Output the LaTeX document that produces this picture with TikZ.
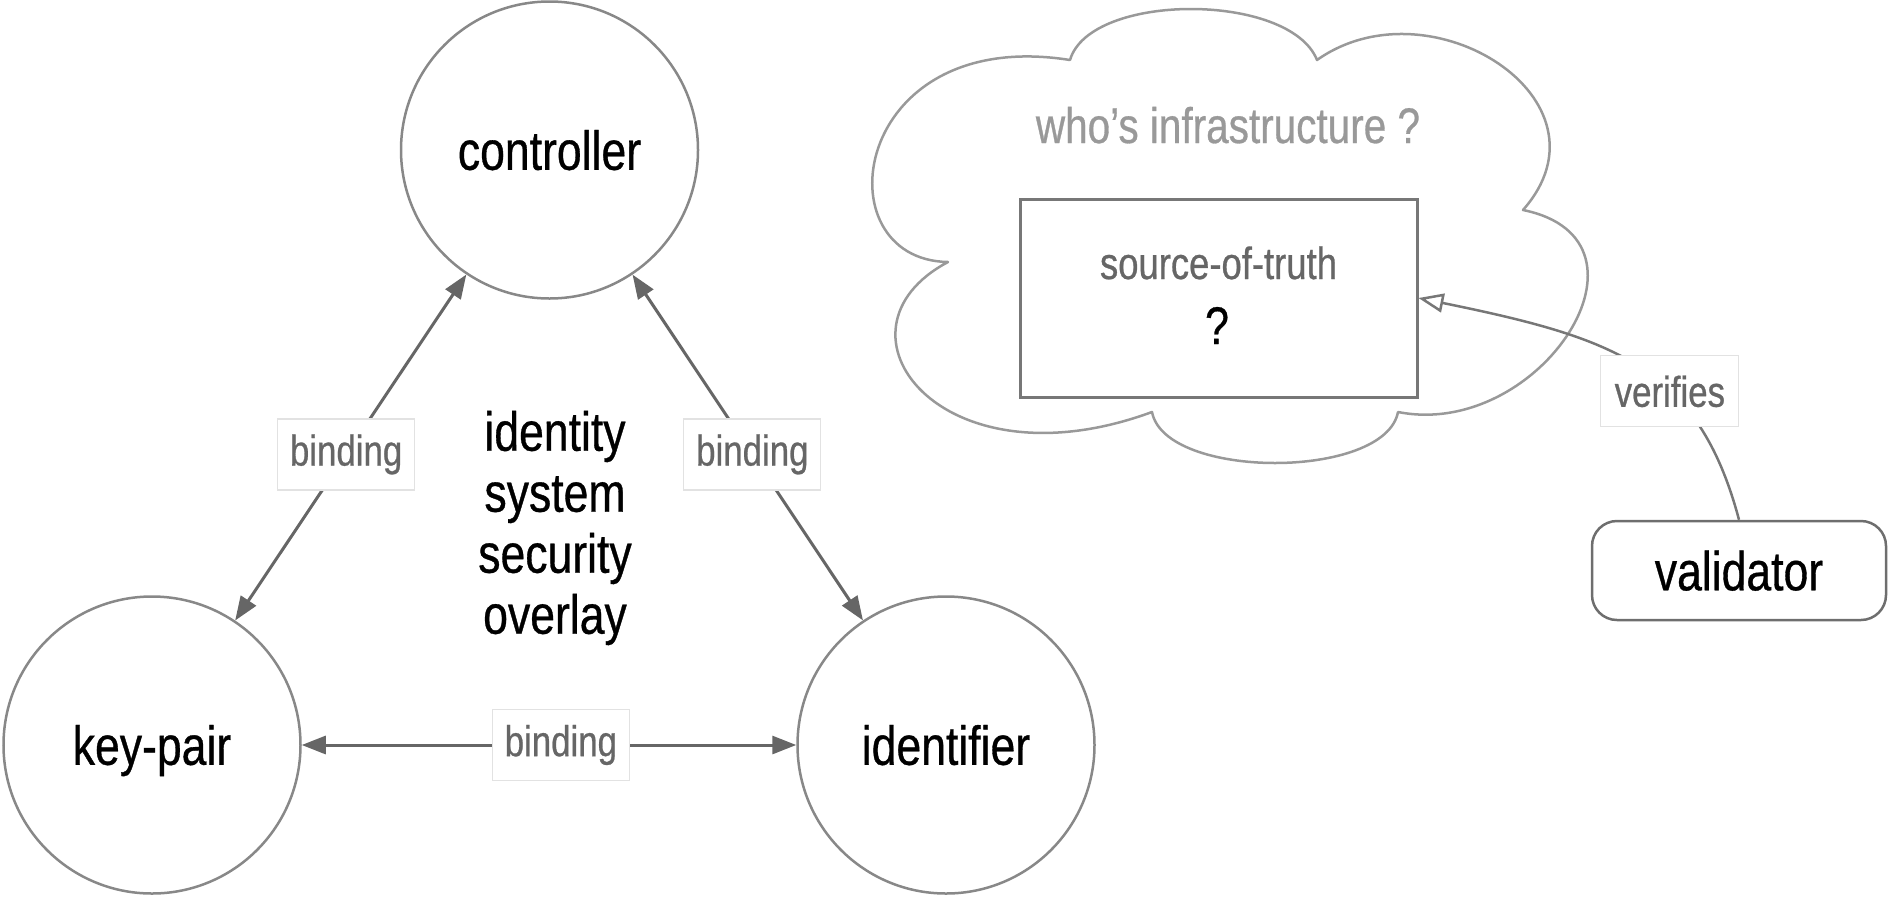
\documentclass[tikz,border=0pt]{standalone}
\usepackage{fontspec}
\setmainfont{Liberation Sans}[FakeStretch=0.81,FakeBold=0.6]
\usetikzlibrary{arrows.meta}
\definecolor{circc}{HTML}{888888}
\definecolor{arrowc}{HTML}{666666}
\definecolor{lblborder}{HTML}{E2E2E2}
\definecolor{lbltext}{HTML}{666666}
\definecolor{boxc}{HTML}{777777}
\definecolor{cloudc}{HTML}{999999}
\definecolor{whoc}{HTML}{999999}
\definecolor{valc}{HTML}{6E6E6E}
\definecolor{verc}{HTML}{777777}
\newcommand\bigtxt{\fontsize{55}{61}\selectfont}
\newcommand\lbltxt{\fontsize{43}{48}\selectfont}
\newcommand\whotxt{\fontsize{50}{56}\selectfont}
\newcommand\sottxt{\fontsize{45}{50}\selectfont}
\newcommand\qtxt{\fontsize{53}{58}\selectfont}
\tikzset{
  bigcirc/.style={circle, draw=circc, line width=2.5pt, minimum size=297pt, inner sep=0pt,
    font=\bigtxt, text height=39.6pt, text depth=0pt},
  lbl/.style={draw=lblborder, line width=1.2pt, fill=white, text=lbltext, font=\lbltxt,
    minimum width=137pt, minimum height=71pt, inner sep=0pt},
  bind/.style={draw=arrowc, line width=3pt,
    {Triangle[length=24pt,width=18pt]}-{Triangle[length=24pt,width=18pt]}},
  cloudline/.style={draw=cloudc, line width=2.5pt, line join=round},
}
\begin{document}
\begin{tikzpicture}[x=1pt,y=-1pt]
\useasboundingbox (0,0) rectangle (1888,898);
% cloud
\draw[cloudline] (1070,60) .. controls (850,25) and (820,260) .. (948,262)
  .. controls (820,330) and (940,490) .. (1152,412)
  .. controls (1165,480) and (1385,480) .. (1398,412)
  .. controls (1540,440) and (1670,240) .. (1523,210)
  .. controls (1620,100) and (1430,-20) .. (1317,60)
  .. controls (1290,-8) and (1090,-8) .. (1070,60) -- cycle;
\node[font=\whotxt, text=whoc, anchor=base, inner sep=0pt] (who) at (1228,143) {who’s infrastructure ?};
\node[draw=boxc, line width=3pt, minimum width=397pt, minimum height=198pt, inner sep=0pt] (sot) at (1218.5,298) {};
\node[font=\sottxt, text=lbltext, anchor=base, inner sep=0pt] (sott) at (1218.5,279) {source-of-truth};
\node[font=\qtxt, anchor=base, inner sep=0pt] (q) at (1217,344) {?};
% triangle
\node[bigcirc] (ctrl) at (549.5,150) {controller};
\node[bigcirc] (kp) at (152,745) {key-pair};
\node[bigcirc] (id) at (946,745) {identifier};
\node[font=\bigtxt, align=center, inner sep=0pt] (overlay) at (555,528) {identity\\system\\security\\overlay};
\draw[bind] (kp) -- (ctrl) node[lbl, pos=0.48] {binding};
\draw[bind] (ctrl) -- (id) node[lbl, pos=0.52] {binding};
\draw[bind] (kp) -- (id) node[lbl, pos=0.524] {binding};
% validator
\node[draw=valc, line width=2.5pt, rounded corners=25pt, minimum width=294pt, minimum height=99pt,
  inner sep=0pt, font=\bigtxt, text height=39.6pt, text depth=0pt] (val) at (1739,570.5) {validator};
\draw[draw=verc, line width=2.5pt, -{Triangle[open,length=25pt,width=19pt]}]
  (val.north) .. controls (1698,366) and (1614,338) .. (sot.east)
  node[lbl, minimum width=138pt, pos=0.38] {verifies};
\end{tikzpicture}
\end{document}
